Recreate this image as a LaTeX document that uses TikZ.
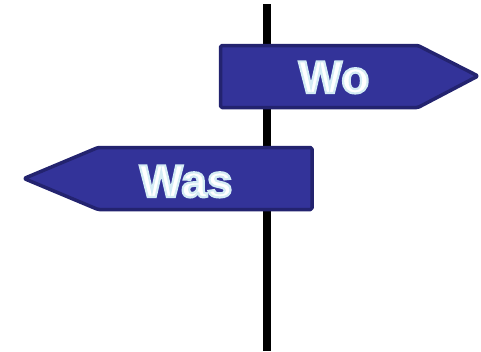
\documentclass[tikz,border=0pt]{standalone}
\usepackage{fontspec}
\setmainfont{Liberation Sans}
\definecolor{signfill}{HTML}{333399}
\definecolor{signedge}{HTML}{23236F}
\definecolor{halo}{HTML}{D4ECF4}
\newcommand{\halotext}[1]{\special{pdf:literal direct q 0.83 0.925 0.957 RG 2.2 w 2 Tr}#1\special{pdf:literal direct Q}}
\begin{document}
\begin{tikzpicture}[x=1pt,y=-1pt,
  sign/.style={fill=signfill,draw=signedge,line width=3.5pt,rounded corners=1.5pt,line join=round},
  signtext/.style={text=white,font=\bfseries\fontsize{46}{46}\selectfont,anchor=base,inner sep=0pt}]
\useasboundingbox (0,0) rectangle (481,351);
\fill[black] (263,4) rectangle (271,351);
% top sign
\draw[sign] (220.5,45.5) -- (418,45.5) -- (478,76) -- (418,107.5) -- (220.5,107.5) -- cycle;
\node[signtext] (wo) at (334,93) {\halotext{Wo}};
% bottom sign
\draw[sign] (312,147.5) -- (98,147.5) -- (24,178.5) -- (98,209.5) -- (312,209.5) -- cycle;
\node[signtext] (was) at (186,197) {\halotext{Was}};
\end{tikzpicture}
\end{document}
